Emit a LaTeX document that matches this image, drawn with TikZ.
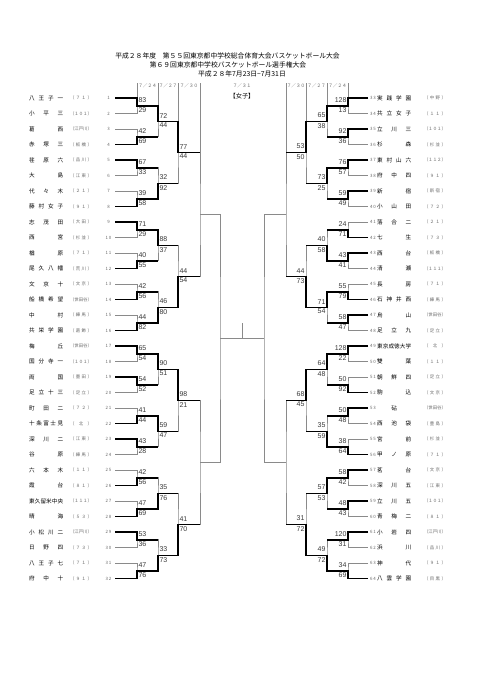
\documentclass[tikz,border=0pt]{standalone}
\usepackage{fontspec}
\setmainfont{Liberation Sans}
\newfontfamily\jp{Noto Sans CJK JP}
\usepackage{tikz}
\usetikzlibrary{calc}
\definecolor{linegrey}{HTML}{8A8A8A}
\definecolor{scoregrey}{HTML}{3A3A3A}
\definecolor{labelgrey}{HTML}{6A6A6A}

% spread the characters of a name over a fixed width
\let\endspread\relax
\def\spreadloop#1#2\endspread{#1\ifx\endspread#2\endspread\else\spreadsep\spreadloop#2\endspread\fi}
\newcommand\spreadbox[2]{\edef\spreadtmp{#2}\makebox[#1][s]{\def\spreadsep{\hfill}\expandafter\spreadloop\spreadtmp\endspread}}
\newcommand\spacednum[1]{\edef\spreadtmp{#1}{\def\spreadsep{\hspace{0.9pt}}\expandafter\spreadloop\spreadtmp\endspread}}

\begin{document}
\begin{tikzpicture}[x=1pt, y=-1pt,
  win/.style={black, line width=1.5pt},
  lose/.style={linegrey, line width=0.7pt},
  teamname/.style={font=\jp\fontsize{5.6}{6}\selectfont, inner sep=0pt,
                   text height=4.7pt, text depth=0.6pt},
  district/.style={font=\jp\fontsize{4.4}{5}\selectfont, text=labelgrey,
                   inner sep=0pt, text height=3.7pt, text depth=0.4pt},
  title/.style={font=\jp\fontsize{6.8}{7}\selectfont, inner sep=0pt},
  datelabel/.style={font=\jp\fontsize{4.6}{5}\selectfont, text=labelgrey, inner sep=0pt},
  score/.style={font=\fontsize{7}{7}\selectfont, text=scoregrey, inner sep=0.5pt},
  topL/.style={anchor=south west, xshift=0.8pt, yshift=2.5pt},
  botL/.style={anchor=north west, xshift=0.8pt, yshift=-1.2pt},
  topR/.style={anchor=south east, xshift=-0.8pt, yshift=2.5pt},
  botR/.style={anchor=north east, xshift=-0.8pt, yshift=-1.2pt},
]
  \fill[white] (0,0) rectangle (481,680);
  \useasboundingbox (0,0) rectangle (481,680);

  % heading
  \node[title] (head1) at (227.5,56) {平成２８年度　第５５回東京都中学校総合体育大会バスケットボール大会};
  \node[title] (head2) at (228,65) {第６９回東京都中学校バスケットボール選手権大会};
  \node[title] (head3) at (242,74) {平成２８年7月23日\textasciitilde 7月31日};
  \node[datelabel] (dL1) at (147.5,86) {７／２４};
  \node[datelabel] (dL2) at (168,86) {７／２７};
  \node[datelabel] (dL3) at (189,86) {７／３０};
  \node[datelabel] (dfin) at (242,86) {７／３１};
  \node[datelabel] (dR3) at (296,86) {７／３０};
  \node[datelabel] (dR2) at (316.5,86) {７／２７};
  \node[datelabel] (dR1) at (337.5,86) {７／２４};
  \node[title, font=\jp\fontsize{6.2}{7}\selectfont] (girls) at (242,96) {【女子】};
  \coordinate (top) at (0,83);

  % left half
  \foreach \i/\nm/\ds [evaluate=\i as \y using 98+(\i-1)*15.5] in {
    1/八王子一/７１, 2/小平三/１０１, 3/葛西/江戸川, 4/赤塚三/板橋,
    5/荏原六/品川, 6/大島/江東, 7/代々木/２１, 8/藤村女子/９１,
    9/志茂田/大田, 10/西宮/杉並, 11/楢原/７１, 12/尾久八幡/荒川,
    13/文京十/文京, 14/船橋希望/世田谷, 15/中村/練馬, 16/共栄学園/葛飾,
    17/梅丘/世田谷, 18/国分寺一/１０１, 19/両国/墨田, 20/足立十三/足立,
    21/町田二/７２, 22/十条富士見/北, 23/深川二/江東, 24/谷原/練馬,
    25/六本木/１１, 26/霞台/８１, 27/東久留米中央/１１１, 28/晴海/５３,
    29/小松川二/江戸川, 30/日野四/７３, 31/八王子七/７１, 32/府中十/９１} {
    \node[teamname, anchor=west] (nL\i) at (29,\y) {\spreadbox{34pt}{\nm}};
    \node[district] (pL\i) at (81,\y) {\spreadbox{22pt}{（\ds）}};
    \node[district] (kL\i) at (108.5,\y) {\spacednum{\i}};
    \coordinate (L0-\i) at (115,\y);
  }

  % right half
  \foreach \j/\nm/\ds [evaluate=\j as \y using 98+(\j-1)*15.5,
                      evaluate=\j as \n using int(\j+32)] in {
    1/実践学園/中野, 2/共立女子/１１, 3/立川三/１０１, 4/杉森/杉並,
    5/東村山六/１１２, 6/府中四/９１, 7/新宿/新宿, 8/小山田/７２,
    9/落合二/２１, 10/七生/７３, 11/西台/板橋, 12/清瀬/１１１,
    13/長房/７１, 14/石神井西/練馬, 15/烏山/世田谷, 16/足立九/足立,
    17/東京成徳大学/北, 18/雙葉/１１, 19/朝鮮四/足立, 20/駒込/文京,
    21/　砧　/世田谷, 22/西池袋/豊島, 23/宮前/杉並, 24/甲ノ原/７１,
    25/茗台/文京, 26/深川五/江東, 27/立川五/１０１, 28/青梅二/８１,
    29/小岩四/江戸川, 30/浜川/品川, 31/神代/９１, 32/八雲学園/目黒} {
    \node[teamname, anchor=west] (nR\j) at (377,\y) {\spreadbox{34pt}{\nm}};
    \node[district] (pR\j) at (435,\y) {\spreadbox{22pt}{（\ds）}};
    \node[district] (kR\j) at (373,\y) {\spacednum{\n}};
    \coordinate (R0-\j) at (368,\y);
  }

  % bracket points
  \foreach \r/\xl/\xr in {1/137/348, 2/158/327, 3/178/306, 4/200/286, 5/220/264} {
    \pgfmathtruncatemacro\nk{2^(5-\r)}
    \foreach \k in {1,...,\nk} {
      \pgfmathsetmacro\ym{98+15.5*((\k-1)*2^\r+(2^\r-1)/2)}
      \coordinate (L\r-\k) at (\xl,\ym);
      \coordinate (R\r-\k) at (\xr,\ym);
    }
  }

  % empty bracket
  \foreach \s in {L,R} {
    \foreach \r/\nk in {1/16, 2/8, 3/4, 4/2, 5/1} {
      \pgfmathtruncatemacro\p{\r-1}
      \foreach \k in {1,...,\nk} {
        \pgfmathtruncatemacro\ca{2*\k-1}
        \pgfmathtruncatemacro\cb{2*\k}
        \draw[lose] (\s\p-\ca) -| (\s\r-\k) |- (\s\p-\cb);
      }
    }
    \foreach \r in {1,...,4} {
      \pgfmathtruncatemacro\p{\r-1}
      \draw[lose] (\s\r-1 |- top) -- (\s\p-1 -| \s\r-1);
    }
  }
  \draw[lose] (L5-1) -- coordinate[midway] (final) (R5-1);
  \draw[lose] (final) -- ++(0,-15);

  % results
  \foreach \s/\r/\k/\a/\b in {
    L/1/1/83/29, L/1/2/42/69, L/1/3/67/33, L/1/4/39/58,
    L/1/5/71/29, L/1/6/40/55, L/1/7/42/56, L/1/8/44/82,
    L/1/9/65/54, L/1/10/54/52, L/1/11/41/44, L/1/12/43/28,
    L/1/13/42/56, L/1/14/47/69, L/1/15/53/36, L/1/16/47/76,
    L/2/1/72/44, L/2/2/32/92, L/2/3/88/37, L/2/4/46/80,
    L/2/5/90/51, L/2/6/59/47, L/2/7/35/76, L/2/8/33/73,
    L/3/1/77/44, L/3/2/44/54, L/3/3/98/21, L/3/4/41/70,
    R/1/1/128/13, R/1/2/92/36, R/1/3/76/57, R/1/4/59/49,
    R/1/5/24/71, R/1/6/43/41, R/1/7/55/79, R/1/8/58/47,
    R/1/9/128/22, R/1/10/50/92, R/1/11/50/48, R/1/12/38/64,
    R/1/13/58/42, R/1/14/48/43, R/1/15/120/31, R/1/16/34/69,
    R/2/1/65/38, R/2/2/73/25, R/2/3/40/58, R/2/4/71/54,
    R/2/5/64/48, R/2/6/35/59, R/2/7/57/53, R/2/8/49/72,
    R/3/1/53/50, R/3/2/44/73, R/3/3/68/45, R/3/4/31/72} {
    \pgfmathtruncatemacro\p{\r-1}
    \pgfmathtruncatemacro\q{\r+1}
    \pgfmathtruncatemacro\w{ifthenelse(\a>\b,2*\k-1,2*\k)}
    \draw[win] (\s\p-\w) -| (\s\r-\k) -- (\s\r-\k -| \s\q-1);
    \node[score, top\s] (a\s\r-\k) at (\s\r-\k) {\a};
    \node[score, bot\s] (b\s\r-\k) at (\s\r-\k) {\b};
  }
\end{tikzpicture}
\end{document}
